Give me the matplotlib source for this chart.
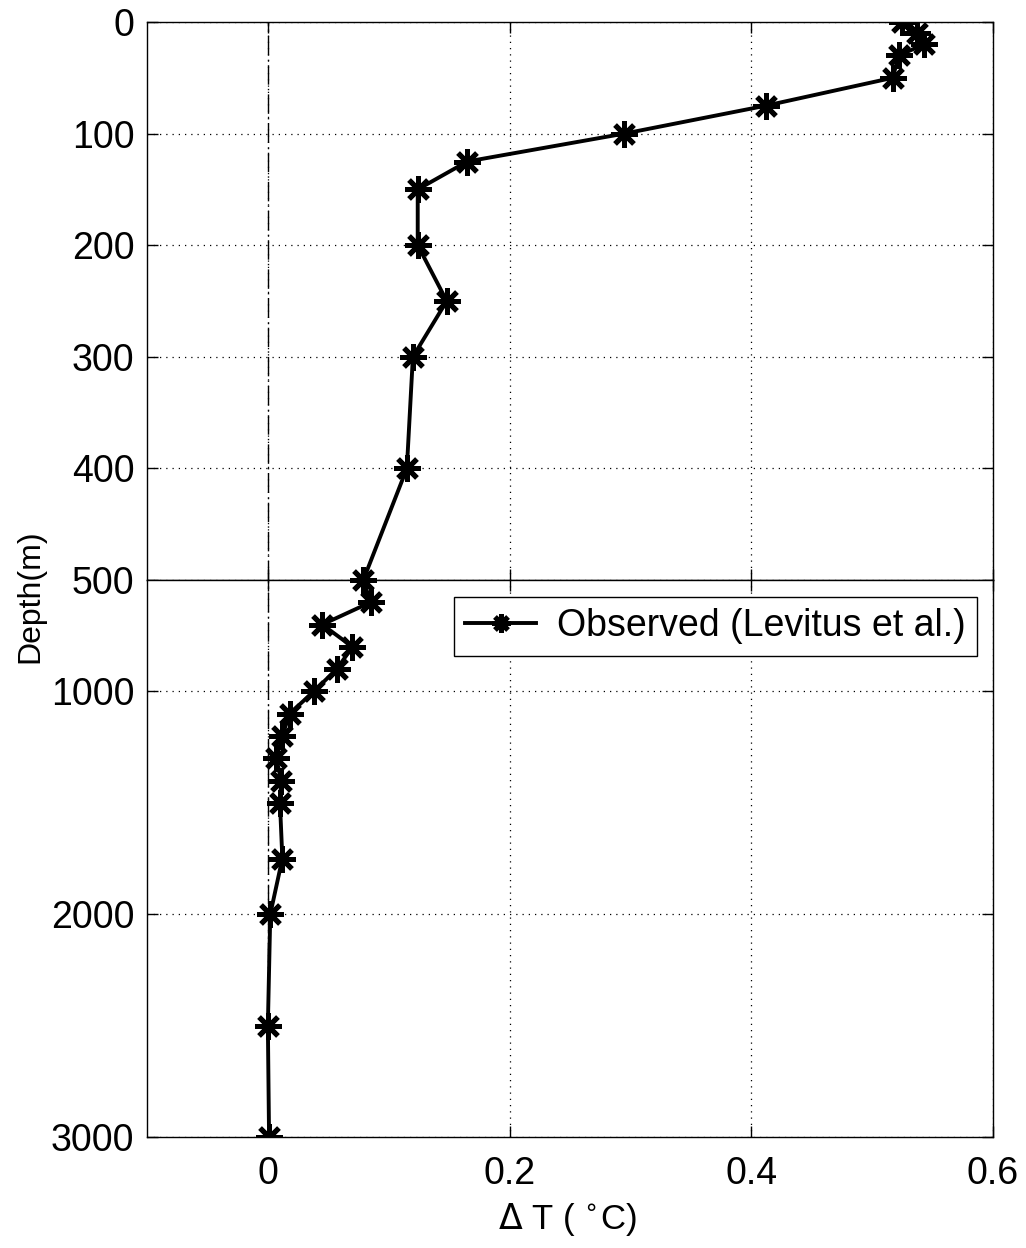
import matplotlib
matplotlib.use("Agg")
import matplotlib.pyplot as plt

# Temperature change profile (observed), depth in metres
depth = [0, 10, 20, 30, 50, 75, 100, 125, 150, 200, 250, 300, 400, 500,
         600, 700, 800, 900, 1000, 1100, 1200, 1300, 1400, 1500, 1750,
         2000, 2500, 3000]
delta_t = [0.525, 0.537, 0.543, 0.522, 0.517, 0.412, 0.295, 0.165, 0.124,
           0.124, 0.148, 0.120, 0.115, 0.079, 0.085, 0.045, 0.070, 0.057,
           0.038, 0.018, 0.012, 0.007, 0.011, 0.010, 0.012, 0.002, 0.000,
           0.001]

x_ticks = [0, 0.2, 0.4, 0.6]
x_tick_labels = ["0", "0.2", "0.4", "0.6"]
upper_ticks = [0, 100, 200, 300, 400, 500]
lower_ticks = [1000, 2000, 3000]
series_label = "Observed (Levitus et al.)"

plt.rcParams["font.family"] = ["Liberation Sans", "DejaVu Sans"]

W, H = 1026, 1248
fig = plt.figure(figsize=(W / 100, H / 100), dpi=100)
left, right = 147 / W, 993 / W
y_top, y_mid, y_bot = 1 - 22 / H, 1 - 580 / H, 1 - 1137 / H

# Two stacked panels: expanded upper 0-500 m, compressed lower 500-3000 m
ax_up = fig.add_axes([left, y_mid, right - left, y_top - y_mid])
ax_lo = fig.add_axes([left, y_bot, right - left, y_mid - y_bot])

grid_style = dict(color="black", linewidth=0.9, linestyle=(0, (1, 4)))
marker = (8, 2, 0)

for ax, (d0, d1), yt in ((ax_up, (500, 0), upper_ticks),
                         (ax_lo, (3000, 500), lower_ticks)):
    ax.set_xlim(-0.1, 0.6)
    ax.set_ylim(d0, d1)
    ax.set_xticks(x_ticks)
    ax.set_yticks(yt)
    ax.grid(True, **grid_style)
    ax.axvline(0, color="black", linewidth=1.0,
               linestyle=(0, (14, 3, 1, 3)), zorder=2)
    ax.plot(delta_t, depth, color="black", linewidth=2.8,
            marker=marker, markersize=19, markeredgewidth=3.6,
            label=series_label, zorder=3)
    ax.tick_params(direction="in", length=8, width=1, top=True, right=True,
                   labelsize=27, pad=9)
    for s in ax.spines.values():
        s.set_linewidth(1.0)

ax_up.tick_params(labelbottom=False)
ax_lo.set_xticklabels(x_tick_labels)
ax_lo.tick_params(axis="x", pad=14)

fig.text(30 / W, 1 - 596 / H, "Depth(m)", rotation=90, fontsize=23,
         ha="center", va="center")
fig.text(567 / W, 1 - 1220 / H, r"$\Delta$ T ( $^{\circ}$C)", fontsize=25,
         ha="center", va="center")

leg = ax_lo.legend(loc="upper right", bbox_to_anchor=(977 / W, 1 - 597 / H),
                   bbox_transform=fig.transFigure, borderaxespad=0,
                   fontsize=27, fancybox=False, framealpha=1,
                   edgecolor="black", handlelength=1.9, borderpad=0.3,
                   handletextpad=0.55)
leg.get_frame().set_linewidth(1.0)
for h in leg.legend_handles:
    h.set_markersize(13)

fig.savefig("out.png", dpi=100)
